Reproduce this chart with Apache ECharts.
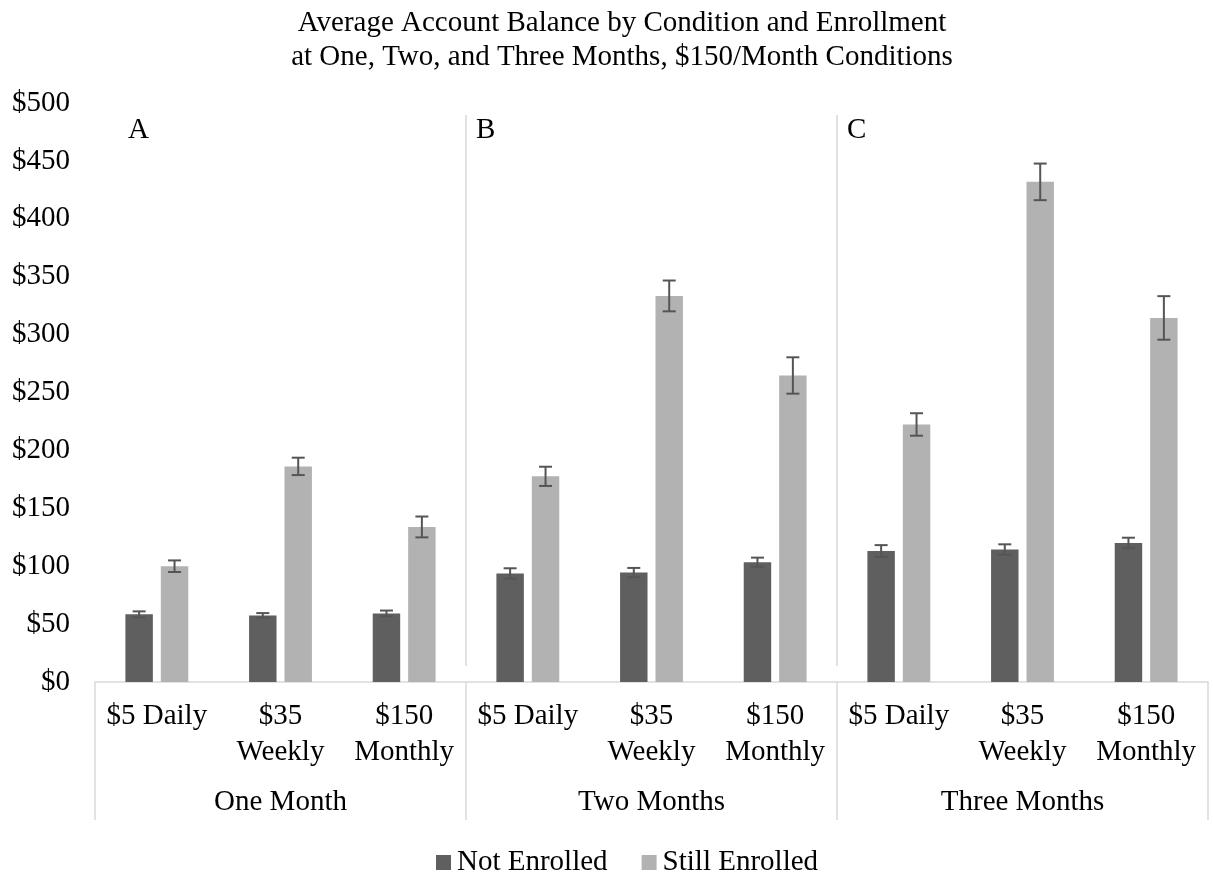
<!DOCTYPE html>
<html>
<head>
<meta charset="utf-8">
<script src="https://cdn.jsdelivr.net/npm/echarts@6/dist/echarts.min.js"></script>
<style>
  html, body { margin: 0; padding: 0; background: #ffffff; }
  #chart { width: 1213px; height: 876px; }
</style>
</head>
<body>
<div id="chart"></div>
<script>
// Payment conditions, repeated for each enrollment period
const conditions = [
  '$5 Daily', '$35\nWeekly', '$150\nMonthly',
  '$5 Daily', '$35\nWeekly', '$150\nMonthly',
  '$5 Daily', '$35\nWeekly', '$150\nMonthly'
];
const periods = ['One Month', 'Two Months', 'Three Months'];
const panelLetters = ['A', 'B', 'C'];
const seriesNames = ['Not Enrolled', 'Still Enrolled'];

// Average balances (dollars) and standard errors
const notEnrolled      = [58.4, 57.5, 59.2, 93.7, 94.5, 103.4, 113.2, 114.4, 120.1];
const notEnrolledErr   = [2.6, 2.0, 2.5, 4.5, 4.0, 4.0, 5.0, 4.5, 4.5];
const stillEnrolled    = [100.0, 186.2, 133.9, 177.6, 333.4, 264.7, 222.4, 431.9, 314.4];
const stillEnrolledErr = [5.0, 7.5, 9.0, 8.3, 13.3, 15.7, 9.7, 15.8, 18.8];

const FONT = "'Liberation Serif', 'Times New Roman', serif";
const BAR_W = 0.222;          // bar width as share of a category band
const BAR_GAP = 0.29;         // gap between the two bars, share of bar width
const DARK = '#5f5f5f';
const LIGHT = '#b2b2b2';
const RULE = '#d9d9d9';

const chart = echarts.init(document.getElementById('chart'), null, { renderer: 'canvas' });

// Error bar drawn at the centre of the matching bar within its category
function errorBar(side) {
  return function (params, api) {
    const idx = api.value(0);
    const val = api.value(1);
    const err = api.value(2);
    const band = api.size([1, 0])[0];
    const shift = side * band * BAR_W * (1 + BAR_GAP) / 2;
    const hi = api.coord([idx, val + err]);
    const lo = api.coord([idx, val - err]);
    const x = hi[0] + shift;
    const cap = 6.5;
    const style = { stroke: '#555555', lineWidth: 2 };
    return {
      type: 'group',
      children: [
        { type: 'line', shape: { x1: x, y1: hi[1], x2: x, y2: lo[1] }, style },
        { type: 'line', shape: { x1: x - cap, y1: hi[1], x2: x + cap, y2: hi[1] }, style },
        { type: 'line', shape: { x1: x - cap, y1: lo[1], x2: x + cap, y2: lo[1] }, style }
      ]
    };
  };
}

const option = {
  animation: false,
  backgroundColor: '#ffffff',
  textStyle: { fontFamily: FONT, color: '#000000' },
  title: {
    text: 'Average Account Balance by Condition and Enrollment\nat One, Two, and Three Months, $150/Month Conditions',
    left: 617,
    top: 1,
    textAlign: 'center',
    textStyle: { fontFamily: FONT, fontSize: 29, fontWeight: 'normal', color: '#000000', lineHeight: 34 }
  },
  legend: {
    data: seriesNames,
    left: 431,
    top: 843,
    icon: 'rect',
    itemWidth: 15,
    itemHeight: 15,
    itemGap: 34,
    textStyle: { fontFamily: FONT, fontSize: 29, color: '#000000', padding: [0, 0, 0, 1] }
  },
  grid: { left: 95, right: 5, top: 103, bottom: 194, containLabel: false },
  xAxis: [
    {
      type: 'category',
      data: conditions,
      position: 'bottom',
      axisLine: { show: true, lineStyle: { color: RULE, width: 1.5 } },
      axisTick: { show: false },
      axisLabel: {
        interval: 0,
        margin: 16,
        verticalAlign: 'top',
        fontFamily: FONT,
        fontSize: 29,
        lineHeight: 36,
        color: '#000000'
      },
      splitLine: { show: false }
    },
    {
      type: 'category',
      data: periods,
      position: 'bottom',
      offset: 0,
      axisLine: { show: false },
      axisTick: { show: true, length: 138, lineStyle: { color: RULE, width: 1.5 } },
      axisLabel: {
        interval: 0,
        margin: 102,
        verticalAlign: 'top',
        fontFamily: FONT,
        fontSize: 29,
        lineHeight: 36,
        color: '#000000'
      },
      splitLine: { show: false }
    }
  ],
  yAxis: {
    type: 'value',
    min: 0,
    max: 500,
    interval: 50,
    axisLine: { show: false },
    axisTick: { show: false },
    splitLine: { show: false },
    axisLabel: {
      margin: 25,
      fontFamily: FONT,
      fontSize: 29,
      color: '#000000',
      formatter: v => '$' + v
    }
  },
  series: [
    {
      name: seriesNames[0],
      type: 'bar',
      xAxisIndex: 0,
      data: notEnrolled,
      barWidth: (BAR_W * 100) + '%',
      barGap: (BAR_GAP * 100) + '%',
      itemStyle: { color: DARK }
    },
    {
      name: seriesNames[1],
      type: 'bar',
      xAxisIndex: 0,
      data: stillEnrolled,
      barWidth: (BAR_W * 100) + '%',
      barGap: (BAR_GAP * 100) + '%',
      itemStyle: { color: LIGHT }
    },
    {
      name: 'Not Enrolled SE',
      type: 'custom',
      xAxisIndex: 0,
      renderItem: errorBar(-1),
      encode: { x: 0, y: 1 },
      data: notEnrolled.map((v, i) => [i, v, notEnrolledErr[i]]),
      z: 5
    },
    {
      name: 'Still Enrolled SE',
      type: 'custom',
      xAxisIndex: 0,
      renderItem: errorBar(1),
      encode: { x: 0, y: 1 },
      data: stillEnrolled.map((v, i) => [i, v, stillEnrolledErr[i]]),
      z: 5
    }
  ]
};

chart.setOption(option);

// Panel dividers and panel letters, positioned from the axes
const c0 = chart.convertToPixel({ xAxisIndex: 0 }, 0);
const c1 = chart.convertToPixel({ xAxisIndex: 0 }, 1);
const band = c1 - c0;
const yTop = chart.convertToPixel({ yAxisIndex: 0 }, 500);
const yBottom = chart.convertToPixel({ yAxisIndex: 0 }, 0);
const perPanel = conditions.length / periods.length;
const graphics = [];
for (let p = 0; p < periods.length; p++) {
  const left = c0 - band / 2 + p * perPanel * band;
  if (p > 0) {
    graphics.push({
      type: 'line',
      shape: { x1: left, y1: yTop + 12, x2: left, y2: yBottom - 16 },
      style: { stroke: RULE, lineWidth: 1.5 },
      silent: true
    });
  }
  graphics.push({
    type: 'text',
    x: left + (p === 0 ? 33 : 10),
    y: yTop + 27,
    style: {
      text: panelLetters[p],
      font: '29px ' + FONT,
      fill: '#000000',
      textVerticalAlign: 'middle',
      verticalAlign: 'middle'
    },
    silent: true
  });
}
chart.setOption({ graphic: graphics });
</script>
</body>
</html>
